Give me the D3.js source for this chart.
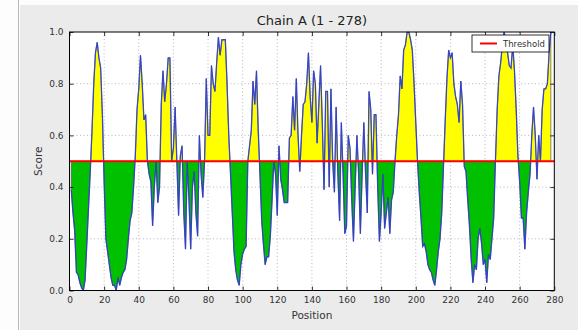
<!DOCTYPE html>
<html>
<head>
<meta charset="utf-8">
<script src="https://cdn.jsdelivr.net/npm/d3@7"></script>
<style>
  html, body { margin: 0; padding: 0; background: #fdfdfd; }
  svg { display: block; font-family: 'DejaVu Sans', sans-serif; }
</style>
</head>
<body>
<svg id="chart" width="578" height="330"></svg>
<script>
// Chain A scores, one value per residue (position = index + 1)
const scores = [
  0.39, 0.30, 0.23, 0.07, 0.06, 0.03, 0.01, 0.00, 0.04, 0.18,
  0.32, 0.46, 0.62, 0.80, 0.92, 0.96, 0.90, 0.86, 0.68, 0.42,
  0.20, 0.15, 0.10, 0.05, 0.02, 0.02, 0.00, 0.05, 0.02, 0.05,
  0.07, 0.08, 0.12, 0.20, 0.27, 0.30, 0.40, 0.52, 0.70, 0.78,
  0.91, 0.80, 0.66, 0.68, 0.50, 0.45, 0.42, 0.25, 0.40, 0.50,
  0.34, 0.40, 0.72, 0.85, 0.73, 0.80, 0.90, 0.90, 0.50, 0.55,
  0.71, 0.50, 0.29, 0.52, 0.56, 0.30, 0.16, 0.50, 0.35, 0.16,
  0.40, 0.46, 0.30, 0.21, 0.60, 0.45, 0.36, 0.50, 0.82, 0.60,
  0.60, 0.87, 0.80, 0.77, 0.88, 0.98, 0.91, 0.97, 0.97, 0.97,
  0.80, 0.60, 0.45, 0.30, 0.15, 0.08, 0.04, 0.02, 0.10, 0.14,
  0.16, 0.17, 0.50, 0.56, 0.62, 0.81, 0.72, 0.85, 0.62, 0.45,
  0.27, 0.18, 0.10, 0.13, 0.13, 0.21, 0.35, 0.50, 0.45, 0.29,
  0.56, 0.43, 0.39, 0.34, 0.34, 0.34, 0.59, 0.60, 0.75, 0.62,
  0.82, 0.60, 0.46, 0.60, 0.72, 0.73, 0.80, 0.92, 0.75, 0.65,
  0.85, 0.80, 0.57, 0.72, 0.87, 0.65, 0.39, 0.77, 0.77, 0.40,
  0.78, 0.50, 0.38, 0.71, 0.45, 0.27, 0.65, 0.45, 0.22, 0.25,
  0.60, 0.55, 0.35, 0.19, 0.40, 0.60, 0.45, 0.22, 0.45, 0.65,
  0.45, 0.30, 0.77, 0.70, 0.45, 0.68, 0.68, 0.40, 0.19, 0.30,
  0.45, 0.24, 0.30, 0.36, 0.22, 0.35, 0.38, 0.50, 0.60, 0.68,
  0.83, 0.78, 0.93, 0.95, 1.00, 1.00, 0.97, 0.93, 0.80, 0.65,
  0.50, 0.38, 0.28, 0.17, 0.18, 0.15, 0.10, 0.08, 0.07, 0.04,
  0.02, 0.08, 0.15, 0.20, 0.30, 0.48, 0.66, 0.82, 0.93, 0.90,
  0.92, 0.80, 0.75, 0.72, 0.65, 0.81, 0.72, 0.48, 0.46, 0.35,
  0.25, 0.12, 0.03, 0.10, 0.08, 0.20, 0.24, 0.18, 0.10, 0.12,
  0.03, 0.14, 0.12, 0.20, 0.28, 0.50, 0.70, 0.83, 0.88, 0.95,
  1.00, 0.97, 0.92, 0.87, 0.86, 0.95, 0.85, 0.70, 0.52, 0.42,
  0.28, 0.28, 0.16, 0.30, 0.38, 0.45, 0.60, 0.71, 0.60, 0.43,
  0.60, 0.50, 0.70, 0.78, 0.78, 0.80, 0.92, 1.00
]
const threshold = 0.5
const xTicks = [0, 20, 40, 60, 80, 100, 120, 140, 160, 180, 200, 220, 240, 260, 280]
const yTicks = [0, 0.2, 0.4, 0.6, 0.8, 1.0]
const title = 'Chain A (1 - 278)'

const data = scores.map((v, i) => ({ pos: i + 1, value: v }))

const svg = d3.select('#chart')

// outer panel
svg.append('rect').attr('x', 20).attr('y', 5).attr('width', 558).attr('height', 325).attr('fill', '#ebebeb')
svg.append('line').attr('x1', 18.5).attr('x2', 18.5).attr('y1', 0).attr('y2', 330)
  .attr('stroke', '#b8b8b8').attr('stroke-width', 1)

const pLeft = 69.5, pRight = 554.3, pTop = 32, pBottom = 290.5
const x = d3.scaleLinear().domain([0, 280]).range([pLeft, pRight])
const y = d3.scaleLinear().domain([0, 1]).range([pBottom, pTop])

// plot background
svg.append('rect').attr('x', pLeft).attr('y', pTop).attr('width', pRight - pLeft).attr('height', pBottom - pTop)
  .attr('fill', '#ffffff')

// grid
const grid = svg.append('g').attr('stroke', '#8a8a8a').attr('stroke-width', 0.6).attr('stroke-dasharray', '1,2.5')
grid.selectAll('.gx').data(xTicks.slice(1, -1)).enter().append('line')
  .attr('x1', (d) => x(d)).attr('x2', (d) => x(d)).attr('y1', pTop).attr('y2', pBottom)
grid.selectAll('.gy').data(yTicks.slice(1, -1)).enter().append('line')
  .attr('x1', pLeft).attr('x2', pRight).attr('y1', (d) => y(d)).attr('y2', (d) => y(d))

// clip regions above / below the threshold
const defs = svg.append('defs')
defs.append('clipPath').attr('id', 'above').append('rect')
  .attr('x', pLeft).attr('y', pTop - 5).attr('width', pRight - pLeft).attr('height', y(threshold) - pTop + 5)
defs.append('clipPath').attr('id', 'below').append('rect')
  .attr('x', pLeft).attr('y', y(threshold)).attr('width', pRight - pLeft).attr('height', pBottom - y(threshold))
defs.append('clipPath').attr('id', 'plot').append('rect')
  .attr('x', pLeft).attr('y', pTop).attr('width', pRight - pLeft).attr('height', pBottom - pTop)

const area = d3.area()
  .x((d) => x(d.pos))
  .y0(y(threshold))
  .y1((d) => y(d.value))

svg.append('path').datum(data)
  .attr('clip-path', 'url(#above)')
  .attr('d', area)
  .attr('fill', '#ffff00')
  .attr('stroke', '#555')
  .attr('stroke-width', 0.7)

svg.append('path').datum(data)
  .attr('clip-path', 'url(#below)')
  .attr('d', area)
  .attr('fill', '#00c000')
  .attr('stroke', '#555')
  .attr('stroke-width', 0.7)

// score line
const line = d3.line().x((d) => x(d.pos)).y((d) => y(d.value))
svg.append('path').datum(data)
  .attr('clip-path', 'url(#plot)')
  .attr('d', line)
  .attr('fill', 'none')
  .attr('stroke', '#2a3ad0')
  .attr('stroke-width', 1.3)
  .attr('stroke-opacity', 0.85)

// threshold line
svg.append('line')
  .attr('x1', pLeft).attr('x2', pRight)
  .attr('y1', y(threshold)).attr('y2', y(threshold))
  .attr('stroke', '#ff0000').attr('stroke-width', 2)

// axes, ticks pointing inward
const fmtY = d3.format('.1f')
const axB = svg.append('g').attr('transform', `translate(0,${pBottom})`)
  .call(d3.axisBottom(x).tickValues(xTicks).tickSize(-4).tickPadding(6))
const axT = svg.append('g').attr('transform', `translate(0,${pTop})`)
  .call(d3.axisTop(x).tickValues(xTicks).tickSize(-4).tickFormat(''))
const axL = svg.append('g').attr('transform', `translate(${pLeft},0)`)
  .call(d3.axisLeft(y).tickValues(yTicks).tickSize(-4).tickPadding(6).tickFormat(fmtY))
const axR = svg.append('g').attr('transform', `translate(${pRight},0)`)
  .call(d3.axisRight(y).tickValues(yTicks).tickSize(-4).tickFormat(''))

for (const ax of [axB, axT, axL, axR]) {
  ax.select('.domain').remove()
  ax.selectAll('.tick line').attr('stroke', '#000').attr('stroke-width', 0.8)
  ax.selectAll('.tick text').attr('fill', '#333').style('font-size', '9px').style('font-family', 'DejaVu Sans, sans-serif')
}

// frame
svg.append('rect').attr('x', pLeft).attr('y', pTop).attr('width', pRight - pLeft).attr('height', pBottom - pTop)
  .attr('fill', 'none').attr('stroke', '#000').attr('stroke-width', 1)

// legend
const lg = svg.append('g')
lg.append('rect').attr('x', 472).attr('y', 35).attr('width', 77).attr('height', 17)
  .attr('fill', '#fff').attr('stroke', '#000').attr('stroke-width', 0.8)
lg.append('line').attr('x1', 480).attr('x2', 497).attr('y1', 43.5).attr('y2', 43.5)
  .attr('stroke', '#ff0000').attr('stroke-width', 2)
lg.append('text').attr('x', 503).attr('y', 46.5).text('Threshold')
  .attr('fill', '#333').style('font-size', '8.5px')

// titles
svg.append('text').attr('x', (pLeft + pRight) / 2).attr('y', 25).attr('text-anchor', 'middle')
  .attr('fill', '#222').style('font-size', '13px').text(title)
svg.append('text').attr('x', (pLeft + pRight) / 2).attr('y', 319).attr('text-anchor', 'middle')
  .attr('fill', '#333').style('font-size', '10.5px').text('Position')
svg.append('text').attr('transform', `translate(42,${(pTop + pBottom) / 2}) rotate(-90)`)
  .attr('text-anchor', 'middle').attr('fill', '#333').style('font-size', '10.5px').text('Score')
</script>
</body>
</html>
